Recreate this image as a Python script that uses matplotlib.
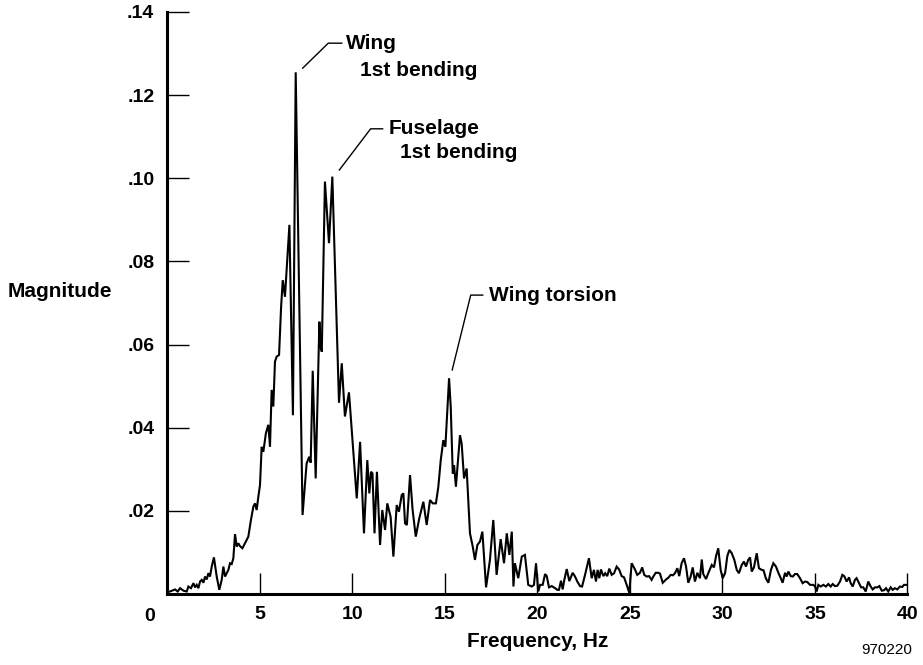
import matplotlib
matplotlib.use('Agg')
import matplotlib.pyplot as plt
from matplotlib.ticker import FixedLocator, FixedFormatter

plt.rcParams['font.family'] = ['Liberation Sans', 'DejaVu Sans']

# Spectrum vertices: frequency (Hz) and magnitude
freq = [
    0.13, 0.41, 0.55, 0.68, 0.86, 1.04, 1.13, 1.27, 1.40, 1.49, 1.58, 1.67, 1.76, 1.85, 1.94,
    2.03, 2.12, 2.21, 2.30, 2.39, 2.51, 2.66, 2.80, 2.93, 3.02, 3.11, 3.20, 3.29, 3.38, 3.47,
    3.56, 3.65, 3.74, 3.83, 3.92, 4.05, 4.19, 4.37, 4.51, 4.64, 4.73, 4.82, 4.91, 5.00,
    5.09, 5.18, 5.32, 5.45, 5.54, 5.63, 5.72, 5.81, 5.90, 6.03, 6.14, 6.23, 6.35, 6.59, 6.78,
    6.93, 7.30, 7.52, 7.66, 7.74, 7.85, 8.01, 8.21, 8.27, 8.34, 8.51, 8.73, 8.91, 9.27, 9.42,
    9.59, 9.81, 10.23, 10.41, 10.62, 10.80, 10.91, 11.00, 11.08, 11.19, 11.32, 11.49,
    11.61, 11.76, 11.88, 12.06, 12.21, 12.39, 12.51, 12.66, 12.75, 12.84, 12.94, 13.11, 13.25,
    13.42, 13.61, 13.83, 14.01, 14.19, 14.34, 14.51, 14.64, 14.77, 14.91, 15.02, 15.22, 15.31,
    15.42, 15.49, 15.59, 15.81, 15.90, 16.03, 16.17, 16.35,
    16.50, 16.62, 16.75, 16.89, 17.02, 17.22, 17.43, 17.61, 17.79, 18.01, 18.19, 18.34, 18.48,
    18.61, 18.70, 18.78, 18.96, 19.15, 19.32, 19.50, 19.69, 19.81, 19.92, 20.04, 20.14,
    20.28, 20.41, 20.50, 20.62, 20.77, 20.95, 21.07, 21.16, 21.27, 21.36, 21.45, 21.58, 21.72,
    21.90, 22.03, 22.15, 22.30, 22.41, 22.57, 22.78, 22.93, 23.05, 23.16, 23.25, 23.34, 23.43,
    23.56, 23.66, 23.77, 23.88, 24.01, 24.14, 24.28, 24.41, 24.55, 24.68, 24.82, 24.96, 25.09,
    25.27, 25.39, 25.54, 25.66, 25.77, 25.90, 26.03, 26.17, 26.26, 26.39, 26.53, 26.62, 26.77,
    26.95, 27.07, 27.20, 27.32, 27.43, 27.56, 27.66, 27.79, 27.92, 28.03, 28.15, 28.28, 28.39,
    28.51, 28.64, 28.78, 28.88, 28.96, 29.11, 29.23, 29.42, 29.54, 29.65, 29.77, 29.90, 30.01,
    30.14, 30.26, 30.37, 30.50, 30.64, 30.77, 30.89, 31.04, 31.16, 31.27, 31.39, 31.49, 31.58,
    31.70, 31.85, 31.97, 32.12, 32.22, 32.34, 32.48, 32.62, 32.75, 32.89, 33.02, 33.15, 33.25,
    33.38, 33.47, 33.56, 33.69, 33.80, 33.92, 34.04, 34.19, 34.33, 34.46, 34.58, 34.73, 34.91,
    35.00, 35.09, 35.18, 35.31, 35.45, 35.59, 35.72, 35.85, 35.96, 36.08, 36.21, 36.35, 36.48,
    36.58, 36.71, 36.84, 36.93, 37.04, 37.16, 37.25, 37.38, 37.49, 37.61, 37.74, 37.88, 38.01,
    38.12, 38.24, 38.37, 38.48, 38.61, 38.73, 38.84, 38.96, 39.09, 39.20, 39.32, 39.45, 39.59,
    39.72, 39.81, 39.92,
]
magnitude = [
    0.0006, 0.0011, 0.0006, 0.0014, 0.0008, 0.0006, 0.0018, 0.0014, 0.0026, 0.0016, 0.0022, 0.0014, 0.0030, 0.0034, 0.0027,
    0.0042, 0.0035, 0.0050, 0.0042, 0.0066, 0.0088, 0.0042, 0.0010, 0.0034, 0.0066, 0.0042, 0.0050, 0.0058, 0.0074, 0.0072,
    0.0086, 0.0144, 0.0114, 0.0122, 0.0115, 0.0110, 0.0122, 0.0138, 0.0178, 0.0210, 0.0218, 0.0202, 0.0234, 0.0262,
    0.0354, 0.0342, 0.0387, 0.0407, 0.0354, 0.0491, 0.0451, 0.0559, 0.0571, 0.0575, 0.0690, 0.0755, 0.0715, 0.0888, 0.0430,
    0.1255, 0.0190, 0.0314, 0.0330, 0.0316, 0.0537, 0.0278, 0.0655, 0.0595, 0.0583, 0.0992, 0.0844, 0.1004, 0.0460, 0.0555,
    0.0427, 0.0485, 0.0230, 0.0366, 0.0146, 0.0322, 0.0242, 0.0294, 0.0290, 0.0146, 0.0294, 0.0118,
    0.0202, 0.0154, 0.0218, 0.0186, 0.0090, 0.0214, 0.0198, 0.0238, 0.0242, 0.0170, 0.0166, 0.0286, 0.0202,
    0.0138, 0.0182, 0.0222, 0.0166, 0.0226, 0.0218, 0.0218, 0.0258, 0.0322, 0.0370, 0.0354, 0.0519, 0.0450,
    0.0290, 0.0310, 0.0258, 0.0382, 0.0362, 0.0278, 0.0302, 0.0146,
    0.0114, 0.0082, 0.0118, 0.0126, 0.0150, 0.0016, 0.0082, 0.0178, 0.0046, 0.0132, 0.0074, 0.0146, 0.0094,
    0.0150, 0.0018, 0.0074, 0.0038, 0.0090, 0.0094, 0.0022, 0.0018, 0.0022, 0.0074, 0.0006, 0.0022,
    0.0022, 0.0048, 0.0043, 0.0016, 0.0019, 0.0014, 0.0010, 0.0010, 0.0032, 0.0011, 0.0034, 0.0060, 0.0031,
    0.0051, 0.0042, 0.0030, 0.0019, 0.0018, 0.0046, 0.0086, 0.0038, 0.0058, 0.0030, 0.0058, 0.0038, 0.0059,
    0.0043, 0.0050, 0.0043, 0.0061, 0.0046, 0.0050, 0.0066, 0.0059, 0.0043, 0.0040, 0.0022, 0.0003, 0.0074,
    0.0059, 0.0046, 0.0051, 0.0064, 0.0046, 0.0042, 0.0043, 0.0034, 0.0042, 0.0051, 0.0051, 0.0049, 0.0027,
    0.0035, 0.0039, 0.0046, 0.0045, 0.0050, 0.0062, 0.0043, 0.0074, 0.0086, 0.0066, 0.0027, 0.0042, 0.0064,
    0.0030, 0.0051, 0.0038, 0.0083, 0.0048, 0.0036, 0.0050, 0.0070, 0.0064, 0.0091, 0.0110, 0.0058, 0.0038,
    0.0050, 0.0091, 0.0106, 0.0098, 0.0082, 0.0058, 0.0050, 0.0070, 0.0078, 0.0066, 0.0082, 0.0088, 0.0054,
    0.0064, 0.0098, 0.0062, 0.0058, 0.0057, 0.0038, 0.0027, 0.0058, 0.0074, 0.0066, 0.0051, 0.0038, 0.0027,
    0.0051, 0.0042, 0.0054, 0.0043, 0.0042, 0.0048, 0.0048, 0.0038, 0.0026, 0.0030, 0.0029, 0.0022, 0.0022,
    0.0018, 0.0006, 0.0022, 0.0018, 0.0022, 0.0018, 0.0024, 0.0018, 0.0024, 0.0019, 0.0020, 0.0030, 0.0046,
    0.0043, 0.0030, 0.0040, 0.0026, 0.0018, 0.0034, 0.0038, 0.0026, 0.0016, 0.0016, 0.0006, 0.0030, 0.0018,
    0.0011, 0.0016, 0.0016, 0.0019, 0.0008, 0.0009, 0.0014, 0.0006, 0.0016, 0.0010, 0.0014, 0.0011, 0.0018,
    0.0017, 0.0022, 0.0022,
]

x_ticks = [5, 10, 15, 20, 25, 30, 35, 40]
x_tick_labels = ['5', '10', '15', '20', '25', '30', '35', '40']
y_ticks = [0.02, 0.04, 0.06, 0.08, 0.10, 0.12, 0.14]
y_tick_labels = ['.02', '.04', '.06', '.08', '.10', '.12', '.14']

# (peak point, elbow point, end of horizontal run, text lines with positions)
callouts = [
    ((7.31, 0.1265), (8.69, 0.1325), 9.42,
     [('Wing', 9.65, 0.1325), ('1st bending', 10.40, 0.1260)]),
    ((9.29, 0.1020), (10.98, 0.1119), 11.63,
     [('Fuselage', 11.94, 0.1119), ('1st bending', 12.57, 0.1061)]),
    ((15.39, 0.0539), (16.39, 0.0719), 17.04,
     [('Wing torsion', 17.39, 0.0719)]),
]

fig = plt.figure(figsize=(9.23, 6.65), dpi=100)
ax = fig.add_axes([0.18147, 0.10677, 0.80173, 0.87519])

ax.plot(freq, magnitude, color='black', linewidth=1.5, solid_joinstyle='miter')

ax.set_xlim(0, 40)
ax.set_ylim(0, 0.14)

for side in ['top', 'right']:
    ax.spines[side].set_visible(False)
for side in ['left', 'bottom']:
    ax.spines[side].set_linewidth(2.2)

ax.xaxis.set_major_locator(FixedLocator(x_ticks))
ax.xaxis.set_major_formatter(FixedFormatter(x_tick_labels))
ax.yaxis.set_major_locator(FixedLocator(y_ticks))
ax.yaxis.set_major_formatter(FixedFormatter(y_tick_labels))
ax.tick_params(axis='x', direction='in', length=15, width=1.0, pad=9, labelsize=14)
ax.tick_params(axis='y', direction='in', length=16, width=1.0, pad=9.5, labelsize=14)
for lbl in ax.get_xticklabels() + ax.get_yticklabels():
    lbl.set_fontweight('bold')

# shared origin label
ax.annotate('0', xy=(0, 0), xytext=(-12.6, -16.5), textcoords='offset points',
            ha='center', va='center', fontsize=14, fontweight='bold')

ax.set_xlabel('Frequency, Hz', fontsize=15, fontweight='bold', labelpad=6)
ax.set_ylabel('Magnitude', fontsize=15, fontweight='bold', rotation=0,
              ha='center', va='center')
ax.yaxis.set_label_coords(-0.145, 0.52)

for (p0, p1, x_end, lines) in callouts:
    ax.plot([p0[0], p1[0], x_end], [p0[1], p1[1], p1[1]], color='black', linewidth=1.0)
    for text, tx, ty in lines:
        ax.text(tx, ty, text, ha='left', va='center', fontsize=15, fontweight='bold')

fig.text(0.988, 0.012, '970220', ha='right', va='bottom', fontsize=11)

fig.savefig('out.png', dpi=100)
